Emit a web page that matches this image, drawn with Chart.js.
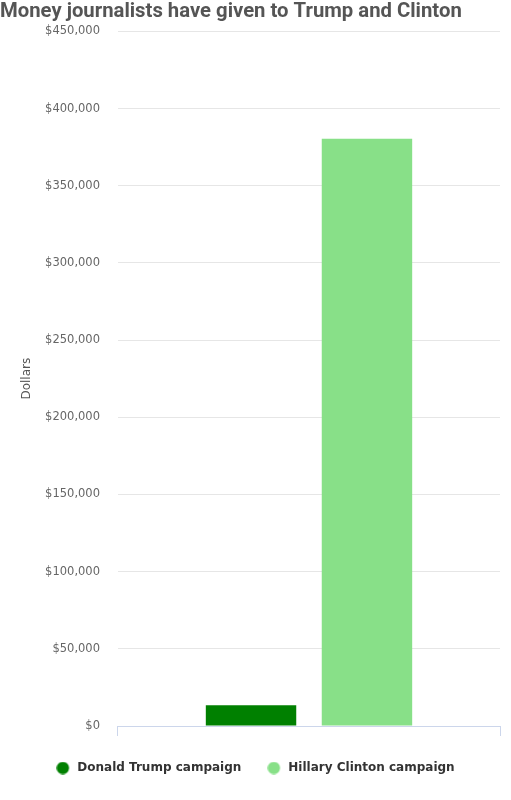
<!DOCTYPE html>
<html>
<head>
<meta charset="utf-8">
<script src="https://cdn.jsdelivr.net/npm/chart.js@4/dist/chart.umd.min.js"></script>
<style>
  html, body { margin: 0; padding: 0; background: #fff; }
  #wrap { width: 511px; height: 800px; position: relative; }
</style>
</head>
<body>
<div id="wrap"><canvas id="grafico"></canvas></div>
<script>
const titulo = 'Money journalists have given to Trump and Clinton'
const categorias = ['']
const trump = [13500]
const clinton = [380500]
const colores = ['rgb(0,128,0)', 'rgb(136,224,136)']
const ticksY = [0, 50000, 100000, 150000, 200000, 250000, 300000, 350000, 400000, 450000]

// legend marker: circle at the left of a wider canvas, so the text sits a bit further away
const puntoLeyenda = (color) => {
  const c = document.createElement('canvas')
  c.width = 15
  c.height = 13
  const ctx = c.getContext('2d')
  ctx.fillStyle = color
  ctx.beginPath()
  ctx.arc(6.5, 6.5, 6.2, 0, Math.PI * 2)
  ctx.fill()
  return c
}
const puntos = colores.map(puntoLeyenda)

const data = {
  labels: categorias,
  datasets: [
    {
      label: 'Donald Trump campaign',
      data: trump,
      backgroundColor: colores[0]
    },
    {
      label: 'Hillary Clinton campaign',
      data: clinton,
      backgroundColor: colores[1]
    }
  ]
}

const config = {
  type: 'bar',
  data: data,
  options: {
    responsive: true,
    maintainAspectRatio: false,
    animation: false,
    categoryPercentage: 0.607,
    barPercentage: 0.78,
    layout: {
      padding: { left: 0, right: 0, top: 0, bottom: 16 }
    },
    plugins: {
      title: {
        display: true,
        text: titulo,
        align: 'start',
        color: '#555',
        font: { family: 'Roboto', size: 20.3, weight: 'bold' },
        padding: { top: 0, bottom: 7 }
      },
      legend: {
        position: 'bottom',
        labels: {
          usePointStyle: true,
          pointStyleWidth: 15,
          boxHeight: 9,
          padding: 26,
          color: '#333',
          font: { family: 'DejaVu Sans', size: 12, weight: 'bold' },
          generateLabels: (chart) => Chart.defaults.plugins.legend.labels.generateLabels(chart)
            .map((item, i) => ({ ...item, pointStyle: puntos[i] }))
        }
      },
      tooltip: { enabled: false }
    },
    scales: {
      x: {
        ticks: { display: false },
        grid: {
          display: true,
          drawOnChartArea: false,
          tickLength: 10,
          color: '#ccd6eb'
        },
        border: { color: '#ccd6eb' },
        // keep the plot clear of the right edge without moving the legend
        afterFit: (scale) => { scale.paddingRight = 11 }
      },
      y: {
        min: 0,
        max: 450000,
        afterBuildTicks: (axis) => {
          axis.ticks = ticksY.map(v => ({ value: v }))
        },
        ticks: {
          padding: 18,
          color: '#666',
          font: { family: 'DejaVu Sans', size: 11.5 },
          callback: (v) => '$' + v.toLocaleString('en-US')
        },
        grid: { color: '#e6e6e6', drawTicks: false },
        border: { display: false },
        title: {
          display: true,
          text: 'Dollars',
          color: '#555',
          font: { family: 'DejaVu Sans', size: 12, lineHeight: 0.01 },
          padding: { top: 27, bottom: 0 }
        }
      }
    }
  }
}

const myChart = new Chart(document.getElementById('grafico'), config)
</script>
</body>
</html>
